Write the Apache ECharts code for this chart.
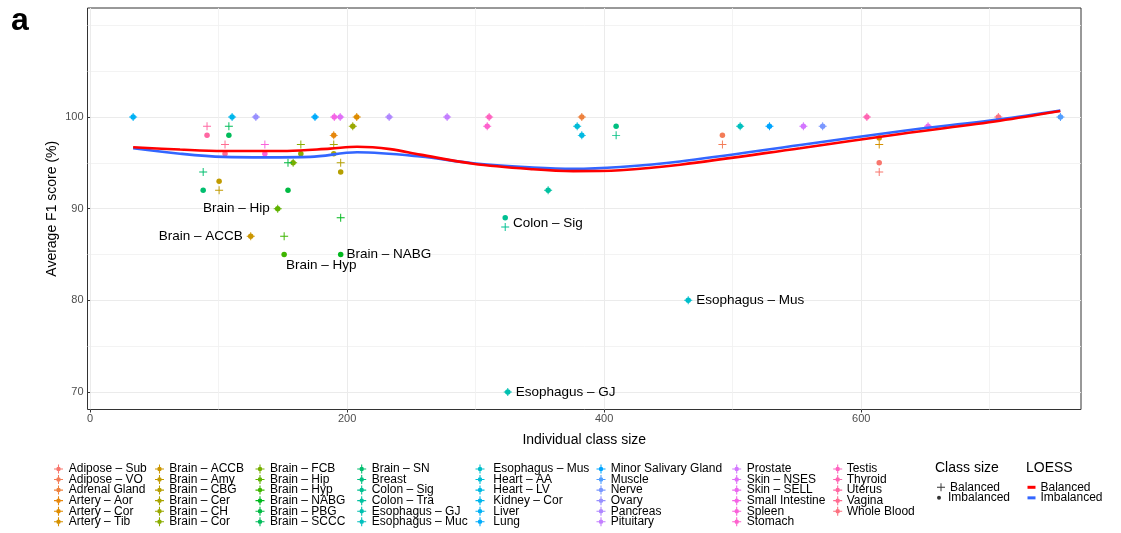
<!DOCTYPE html>
<html><head><meta charset="utf-8">
<script src="https://cdn.jsdelivr.net/npm/echarts@6/dist/echarts.min.js"></script>
<style>html,body{margin:0;padding:0;background:#fff}#c{width:1121px;height:533px}</style>
</head><body><div id="c"></div>
<script>
// ---------------- DATA ----------------
const tissues = [
  'Adipose – Sub','Adipose – VO','Adrenal Gland','Artery – Aor','Artery – Cor','Artery – Tib',
  'Brain – ACCB','Brain – Amy','Brain – CBG','Brain – Cer','Brain – CH','Brain – Cor',
  'Brain – FCB','Brain – Hip','Brain – Hyp','Brain – NABG','Brain – PBG','Brain – SCCC',
  'Brain – SN','Breast','Colon – Sig','Colon – Tra','Esophagus – GJ','Esophagus – Muc',
  'Esophagus – Mus','Heart – AA','Heart – LV','Kidney – Cor','Liver','Lung',
  'Minor Salivary Gland','Muscle','Nerve','Ovary','Pancreas','Pituitary',
  'Prostate','Skin – NSES','Skin – SELL','Small Intestine','Spleen','Stomach',
  'Testis','Thyroid','Uterus','Vagina','Whole Blood'
];
const classSize = [
  614, 492, 382.6, 189.6, 207.5, 614,
  125, 100.4, 195, 189.6, 204.4, 164,
  158, 146, 151, 195, 154, 108,
  88, 409.3, 323, 356.4, 325, 505.8,
  465.4, 379, 382.6, 110.5, 33.5, 175,
  528.6, 755, 570, 129, 232.7, 277.8,
  555, 194.6, 652, 190, 136, 309,
  310.5, 604.4, 91, 105, 706.7
];
const balancedF1 = [
  94, 97, 100, 98, 100, 97,
  87, 92, 95, 97, 99, 97,
  95, 90, 87, 89, 95, 99,
  94, 98, 88, 92, 70, 99,
  80, 99, 98, 100, 100, 100,
  99, 100, 99, 100, 100, 100,
  99, 100, 99, 100, 97, 99,
  100, 100, 99, 97, 100
];
const imbalancedF1 = [
  95, 98, 100, 98, 100, 97.7,
  87, 93, 94, 96, 99, 96,
  95, 90, 85, 85, 92, 98,
  92, 99, 89, 92, 70, 99,
  80, 99, 98, 100, 100, 100,
  99, 100, 99, 100, 100, 100,
  99, 100, 99, 100, 96, 99,
  100, 100, 98, 96, 100
];
// LOESS curves
const loessBalX = [33.5, 70, 103.5, 153.3, 186.8, 207.8, 233.5, 256.8, 298, 344.7, 375.9, 412.5, 459, 552.5, 630.4, 708, 754.9];
const loessBalY = [96.7, 96.45, 96.3, 96.3, 96.55, 96.75, 96.5, 95.9, 94.9, 94.3, 94.1, 94.2, 94.8, 96.6, 98.15, 99.6, 100.65];
const loessImbX = [33.5, 70, 103.5, 137.7, 171.2, 207.8, 256.8, 298, 344.7, 375.9, 412.5, 459, 552.5, 630.4, 708, 754.9];
const loessImbY = [96.6, 96.0, 95.65, 95.6, 95.65, 96.15, 95.7, 94.95, 94.5, 94.35, 94.55, 95.15, 96.95, 98.45, 99.75, 100.7];
const xMajorTicks = [0, 200, 400, 600];
const xMinorTicks = [100, 300, 500, 700];
const yMajorTicks = [70, 80, 90, 100];
const yMinorTicks = [75, 85, 95, 105, 110];

// ---------------- STYLE ----------------
const FONT = '"Liberation Sans", Arial, Helvetica, sans-serif';
const PLUS = 'path://M0,4.4H10V5.6H0Z M4.4,0H5.6V10H4.4Z';
const STAR = 'path://M0,4.4H10V5.6H0Z M4.4,0H5.6V10H4.4Z M2.5,5A2.5,2.5 0 1,1 7.5,5A2.5,2.5 0 1,1 2.5,5Z';

function hcl(h, c, l) {
  const hr = h * Math.PI / 180;
  const U = c * Math.cos(hr), V = c * Math.sin(hr);
  const Xn = 95.047, Yn = 100, Zn = 108.883;
  const Y = l > 8 ? Yn * Math.pow((l + 16) / 116, 3) : Yn * l / 903.3;
  const d = Xn + 15 * Yn + 3 * Zn, un = 4 * Xn / d, vn = 9 * Yn / d;
  const up = U / (13 * l) + un, vp = V / (13 * l) + vn;
  const X = 9 * Y * up / (4 * vp), Z = Y * (12 - 3 * up - 20 * vp) / (4 * vp);
  const x = X / 100, y = Y / 100, z = Z / 100;
  const lin = [
    3.2404542 * x - 1.5371385 * y - 0.4985314 * z,
    -0.9692660 * x + 1.8760108 * y + 0.0415560 * z,
    0.0556434 * x - 0.2040259 * y + 1.0572252 * z
  ];
  return '#' + lin.map(v => {
    v = Math.max(0, Math.min(1, v));
    v = v <= 0.0031308 ? 12.92 * v : 1.055 * Math.pow(v, 1 / 2.4) - 0.055;
    return Math.round(Math.max(0, Math.min(1, v)) * 255).toString(16).padStart(2, '0');
  }).join('');
}
const colors = tissues.map((t, i) => hcl(15 + 360 * i / tissues.length, 100, 65));

// label placement for annotated tissues
const labelSpec = {
  'Brain – Hip':    { pt: 0, position: 'left',  distance: 4, offset: [0, 0] },
  'Brain – ACCB':   { pt: 0, position: 'left',  distance: 4, offset: [0, 0] },
  'Brain – Hyp':    { pt: 1, position: 'right', distance: 0, offset: [-1, 11] },
  'Brain – NABG':   { pt: 1, position: 'right', distance: 3, offset: [0, 0] },
  'Colon – Sig':    { pt: 1, position: 'right', distance: 5, offset: [0, 5] },
  'Esophagus – Mus':{ pt: 0, position: 'right', distance: 4, offset: [0, 0] },
  'Esophagus – GJ': { pt: 0, position: 'right', distance: 4, offset: [0, 0] }
};

const series = tissues.map((t, i) => {
  const pts = [
    { value: [classSize[i], balancedF1[i]], symbol: PLUS, symbolSize: 8 },
    { value: [classSize[i], imbalancedF1[i]], symbol: 'circle', symbolSize: 5.5 }
  ];
  const ls = labelSpec[t];
  if (ls) {
    pts[ls.pt].label = {
      show: true, position: ls.position, distance: ls.distance, offset: ls.offset,
      formatter: t, color: '#000', fontSize: 13.5, fontFamily: FONT
    };
  }
  return {
    type: 'scatter', name: t, xAxisIndex: 0, yAxisIndex: 0, z: 2,
    itemStyle: { color: colors[i], opacity: 1 },
    emphasis: { disabled: true },
    data: pts
  };
});

series.push({
  type: 'line', name: 'Imbalanced', xAxisIndex: 0, yAxisIndex: 0, z: 4,
  color: '#3366FF', smooth: 0.35, showSymbol: false, symbol: 'none',
  lineStyle: { width: 2.6, color: '#3366FF' },
  emphasis: { disabled: true },
  data: loessImbX.map((x, i) => [x, loessImbY[i]])
});
series.push({
  type: 'line', name: 'Balanced', xAxisIndex: 0, yAxisIndex: 0, z: 5,
  color: '#FF0000', smooth: 0.35, showSymbol: false, symbol: 'none',
  lineStyle: { width: 2.6, color: '#FF0000' },
  emphasis: { disabled: true },
  data: loessBalX.map((x, i) => [x, loessBalY[i]])
});
// class-size legend carriers (no data)
series.push({ type: 'scatter', name: 'Balanced ', data: [], color: '#000', itemStyle: { color: '#000' } });
series.push({ type: 'scatter', name: 'Imbalanced ', data: [], color: '#000', itemStyle: { color: '#000' } });

// tissue legends: 8 columns of 6
const iconCenters = [58.5, 159.5, 260, 361.7, 480, 601, 736.7, 837.7];
const textStarts  = [68.7, 169.3, 270, 371.7, 493.3, 610.7, 746.7, 846.7];
const legendText = { fontSize: 12, color: '#000', fontFamily: FONT };
const ROWGAP = -1.45;
const legends = [];
for (let c = 0; c < 8; c++) {
  const w = 9;
  const textGap = textStarts[c] - iconCenters[c] - w / 2;
  legends.push({
    orient: 'vertical', left: iconCenters[c] - w / 2, top: 463, height: 90, padding: 0,
    itemGap: ROWGAP, itemWidth: w, itemHeight: 9, selectedMode: false,
    icon: STAR, textStyle: Object.assign({ padding: [0, 0, 0, textGap - 5] }, legendText),
    data: tissues.slice(c * 6, c * 6 + 6).map(n => ({ name: n, icon: STAR }))
  });
}
legends.push({
  orient: 'vertical', left: 937, top: 481.3, height: 40, padding: 0, itemGap: 0,
  itemWidth: 8, itemHeight: 8, selectedMode: false, textStyle: legendText,
  data: [{ name: 'Balanced ', icon: PLUS }]
});
legends.push({
  orient: 'vertical', left: 937, top: 491.8, height: 40, padding: 0, itemGap: 0,
  itemWidth: 8, itemHeight: 4, selectedMode: false, textStyle: legendText,
  data: [{ name: 'Imbalanced ', icon: 'circle' }]
});
legends.push({
  orient: 'vertical', left: 1027.5, top: 481.3, height: 40, padding: 0, itemGap: ROWGAP,
  itemWidth: 8, itemHeight: 3, selectedMode: false, textStyle: legendText,
  data: [{ name: 'Balanced', icon: 'rect' }, { name: 'Imbalanced', icon: 'rect' }]
});

const axisLabelStyle = { color: '#4D4D4D', fontSize: 11, fontFamily: FONT };
const option = {
  animation: false,
  backgroundColor: '#fff',
  grid: { left: 87.5, top: 8, right: 40, bottom: 123.5, show: true, borderColor: '#333', borderWidth: 1, backgroundColor: 'transparent' },
  xAxis: [
    {
      type: 'value', min: -2, max: 771,
      axisLine: { show: false },
      axisTick: { show: true, length: 3, lineStyle: { color: '#333' }, customValues: xMajorTicks },
      axisLabel: Object.assign({ customValues: xMajorTicks, margin: 4 }, axisLabelStyle),
      splitLine: { show: true, lineStyle: { color: '#EBEBEB', width: 1 } },
      name: 'Individual class size', nameLocation: 'middle', nameGap: 24,
      nameTextStyle: { color: '#000', fontSize: 14, fontFamily: FONT }
    },
    {
      type: 'value', min: -2, max: 771, position: 'top',
      axisLine: { show: false },
      axisTick: { show: false, customValues: xMinorTicks },
      axisLabel: { show: false, customValues: xMinorTicks },
      splitLine: { show: true, lineStyle: { color: '#F0F0F0', width: 0.8 } }
    }
  ],
  yAxis: [
    {
      type: 'value', min: 68.08, max: 111.9,
      axisLine: { show: false },
      axisTick: { show: true, length: 3, lineStyle: { color: '#333' }, customValues: yMajorTicks },
      axisLabel: Object.assign({ customValues: yMajorTicks, margin: 4 }, axisLabelStyle),
      splitLine: { show: true, lineStyle: { color: '#EBEBEB', width: 1 } },
      name: 'Average F1 score (%)', nameLocation: 'middle', nameGap: 28, nameRotate: 90,
      nameMoveOverlap: false,
      nameTextStyle: { color: '#000', fontSize: 14, fontFamily: FONT }
    },
    {
      type: 'value', min: 68.08, max: 111.9, position: 'right',
      axisLine: { show: false },
      axisTick: { show: false, customValues: yMinorTicks },
      axisLabel: { show: false, customValues: yMinorTicks },
      splitLine: { show: true, lineStyle: { color: '#F0F0F0', width: 0.8 } }
    }
  ],
  legend: legends,
  graphic: [
    { type: 'text', left: 11, top: 5, style: { text: 'a', font: 'bold 32px ' + FONT, fill: '#000' } },
    { type: 'text', left: 935, top: 461, style: { text: 'Class size', font: '14px ' + FONT, fill: '#000' } },
    { type: 'text', left: 1026, top: 461, style: { text: 'LOESS', font: '14px ' + FONT, fill: '#000' } }
  ],
  series: series
};
const chart = echarts.init(document.getElementById('c'), null, { renderer: 'canvas' });
chart.setOption(option);
</script></body></html>
